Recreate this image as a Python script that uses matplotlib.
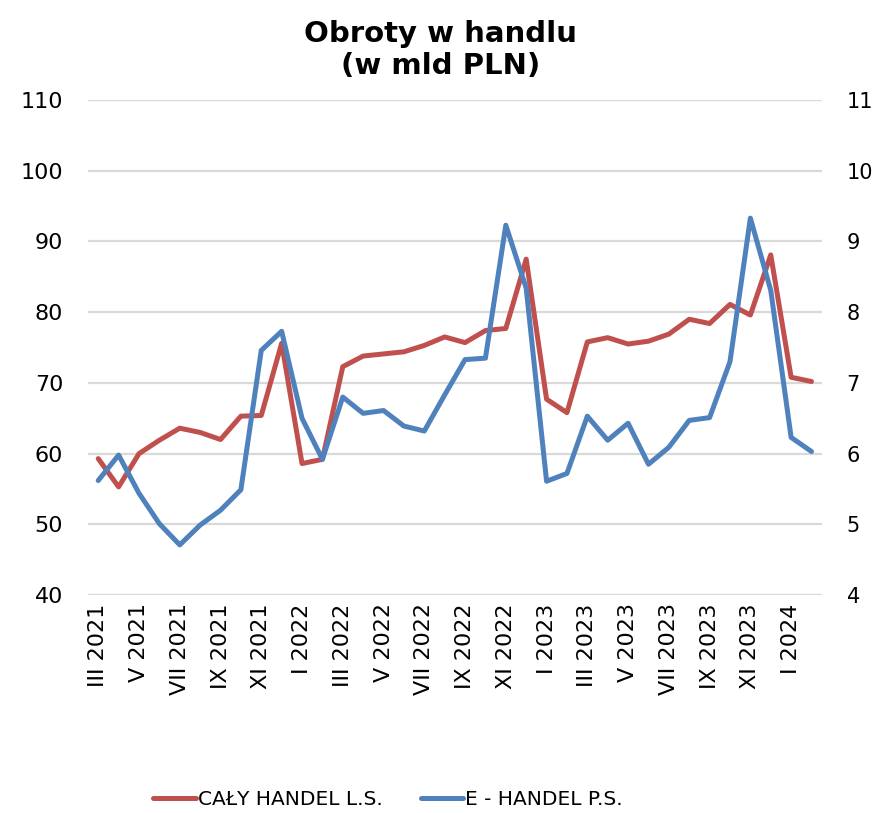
import matplotlib.pyplot as plt
import numpy as np

# miesiace III 2021 - II 2024
miesiace = ["III 2021", "IV 2021", "V 2021", "VI 2021", "VII 2021", "VIII 2021",
            "IX 2021", "X 2021", "XI 2021", "XII 2021", "I 2022", "II 2022",
            "III 2022", "IV 2022", "V 2022", "VI 2022", "VII 2022", "VIII 2022",
            "IX 2022", "X 2022", "XI 2022", "XII 2022", "I 2023", "II 2023",
            "III 2023", "IV 2023", "V 2023", "VI 2023", "VII 2023", "VIII 2023",
            "IX 2023", "X 2023", "XI 2023", "XII 2023", "I 2024", "II 2024"]

# caly handel (lewa skala, mld PLN)
caly = [59.3, 55.3, 60.0, 61.9, 63.6, 63.0, 62.0, 65.3, 65.4, 75.6, 58.6, 59.2,
        72.3, 73.8, 74.1, 74.4, 75.3, 76.5, 75.7, 77.4, 77.7, 87.5, 67.7, 65.8,
        75.8, 76.4, 75.5, 75.9, 76.9, 79.0, 78.4, 81.1, 79.6, 88.1, 70.8, 70.2]

# e-handel (prawa skala, mld PLN)
ehandel = [5.62, 5.98, 5.44, 5.01, 4.71, 4.99, 5.20, 5.49, 7.46, 7.73, 6.50, 5.92,
           6.80, 6.57, 6.61, 6.39, 6.32, 6.83, 7.33, 7.35, 9.23, 8.34, 5.61, 5.72,
           6.53, 6.19, 6.43, 5.85, 6.09, 6.47, 6.51, 7.30, 9.33, 8.31, 6.23, 6.03]

czerwony = "#C0504D"
niebieski = "#4F81BD"

x = np.arange(len(miesiace))

fig = plt.figure(figsize=(8.76, 8.13), dpi=100)
ax = fig.add_axes([0.1005, 0.268, 0.8375, 0.609])
ax2 = ax.twinx()

l1, = ax.plot(x, caly, color=czerwony, lw=3.6, solid_joinstyle="round", solid_capstyle="round")
l2, = ax2.plot(x, ehandel, color=niebieski, lw=3.6, solid_joinstyle="round", solid_capstyle="round")

ax.set_xlim(-0.5, 35.5)
ax.set_ylim(40, 110)
ax.set_yticks(range(40, 111, 10))
ax2.set_ylim(4, 11)
ax2.set_yticks(range(4, 12))

ax.set_xticks(x[::2])
ax.set_xticklabels(miesiace[::2], rotation=90, fontsize=16)
ax.tick_params(axis="x", length=0, pad=6)
ax.tick_params(axis="y", length=0, pad=18, labelsize=16)
ax2.tick_params(axis="y", length=0, pad=18, labelsize=15)

ax.grid(axis="y", color="#D9D9D9", lw=1.6)
ax.set_axisbelow(True)
for a in (ax, ax2):
    for s in a.spines.values():
        s.set_visible(False)

fig.text(0.503, 0.975, "Obroty w handlu\n(w mld PLN)", ha="center", va="top",
         fontsize=21, fontweight="bold", linespacing=1.15)

fig.legend([l1, l2], ["CAŁY HANDEL L.S.", "E - HANDEL P.S."], loc="center",
           bbox_to_anchor=(0.443, 0.016), ncol=2, frameon=False, fontsize=14.5,
           handlelength=2.1, handletextpad=0.1, columnspacing=1.9)

fig.savefig("out.png", dpi=100)
